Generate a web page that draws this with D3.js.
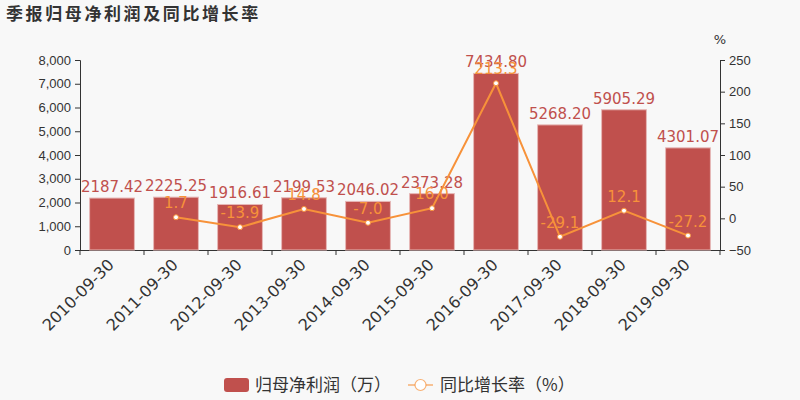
<!DOCTYPE html>
<html><head><meta charset="utf-8">
<script src="https://cdn.jsdelivr.net/npm/d3@7"></script>
<style>body{margin:0;background:#f8f8f8;}svg{display:block;font-family:"DejaVu Sans","Noto Sans CJK SC",sans-serif;}</style>
</head><body><svg id="c" width="800" height="400"></svg>
<script>
const categories = ["2010-09-30","2011-09-30","2012-09-30","2013-09-30","2014-09-30","2015-09-30","2016-09-30","2017-09-30","2018-09-30","2019-09-30"];
const profit = [2187.42,2225.25,1916.61,2199.53,2046.02,2373.28,7434.80,5268.20,5905.29,4301.07];
const growth = [null,1.7,-13.9,14.8,-7.0,16.0,213.3,-29.1,12.1,-27.2];
const leftTicks = [0,1000,2000,3000,4000,5000,6000,7000,8000];
const rightTicks = [-50,0,50,100,150,200,250];

const svg = d3.select("#c");
const L = 80, R = 720, T = 60, B = 250;
const barColor = "#c0504d", lineColor = "#f7923a", textColor = "#333";

const x = d3.scaleBand().domain(categories).range([L, R]).paddingInner(0.3).paddingOuter(0.15);
const xb = d3.scaleBand().domain(categories).range([L, R]);
const yL = d3.scaleLinear().domain([0, 8000]).range([B, T]);
const yR = d3.scaleLinear().domain([-50, 250]).range([B, T]);

svg.append("text").attr("x", 6).attr("y", 20).text("季报归母净利润及同比增长率")
  .attr("font-size", 17).attr("font-weight", "bold").attr("fill", "#333").attr("letter-spacing", 2.6)
  .attr("font-family", "'Noto Sans CJK SC',sans-serif");

// axes
const gl = svg.append("g").attr("transform", `translate(${L},0)`)
  .call(d3.axisLeft(yL).tickValues(leftTicks).tickFormat(d3.format(",")).tickSize(5).tickPadding(4));
const gr = svg.append("g").attr("transform", `translate(${R},0)`)
  .call(d3.axisRight(yR).tickValues(rightTicks).tickSize(5).tickPadding(4));
const gx = svg.append("g").attr("transform", `translate(0,${B})`)
  .call(d3.axisBottom(xb).tickSize(5).tickFormat(""));
gx.selectAll(".tick").remove();
gx.selectAll(".tk").data(d3.range(categories.length + 1)).enter().append("line")
  .attr("x1", i => L + i * xb.step()).attr("x2", i => L + i * xb.step())
  .attr("y1", 0).attr("y2", 5).attr("stroke", textColor);
[gl, gr, gx].forEach(g => {
  g.selectAll("path,line").attr("stroke", textColor);
  g.selectAll("text").attr("fill", textColor).attr("font-size", 13);
});
gx.select(".domain").attr("d", `M${L},0.5H${R}`);

svg.append("text").attr("x", R).attr("y", 44).attr("text-anchor", "middle")
  .attr("font-size", 13).attr("fill", textColor).text("%");

// x labels
svg.append("g").selectAll("text").data(categories).enter().append("text")
  .attr("transform", d => `translate(${xb(d) + xb.bandwidth() / 2 - 5},${B + 8}) rotate(-45)`)
  .attr("text-anchor", "end").attr("font-size", 16).attr("fill", textColor)
  .attr("dy", "0.7em").text(d => d);

// bars
svg.append("g").selectAll("rect").data(profit).enter().append("rect")
  .attr("x", (d, i) => x(categories[i])).attr("width", x.bandwidth())
  .attr("y", d => yL(d)).attr("height", d => B - yL(d))
  .attr("fill", barColor).attr("stroke", "#e6b8b7").attr("stroke-width", 1);

svg.append("g").selectAll("text").data(profit).enter().append("text")
  .attr("x", (d, i) => x(categories[i]) + x.bandwidth() / 2).attr("y", d => yL(d) - 6)
  .attr("text-anchor", "middle").attr("font-size", 15).attr("fill", barColor)
  .text(d => d.toFixed(2));

// line
const pts = growth.map((g, i) => ({g, c: categories[i]})).filter(d => d.g !== null);
const cx = d => xb(d.c) + xb.bandwidth() / 2;
svg.append("path").datum(pts)
  .attr("d", d3.line().x(cx).y(d => yR(d.g)))
  .attr("fill", "none").attr("stroke", lineColor).attr("stroke-width", 2);
svg.append("g").selectAll("circle").data(pts).enter().append("circle")
  .attr("cx", cx).attr("cy", d => yR(d.g)).attr("r", 2.5)
  .attr("fill", "#fff").attr("stroke", lineColor).attr("stroke-width", 1);
svg.append("g").selectAll("text").data(pts).enter().append("text")
  .attr("x", cx).attr("y", d => yR(d.g) - 9)
  .attr("text-anchor", "middle").attr("font-size", 15).attr("fill", lineColor)
  .text(d => d.g.toFixed(1));

// legend
const lg = svg.append("g").attr("font-family", "'Noto Sans CJK SC',sans-serif");
lg.append("rect").attr("x", 224).attr("y", 378).attr("width", 25).attr("height", 14).attr("rx", 3).attr("fill", barColor);
lg.append("text").attr("x", 255).attr("y", 391).attr("font-size", 17).attr("fill", textColor).text("归母净利润（万）");
lg.append("line").attr("x1", 408).attr("x2", 433).attr("y1", 385).attr("y2", 385).attr("stroke", lineColor).attr("stroke-width", 1.5).attr("stroke-opacity", 0.7);
lg.append("circle").attr("cx", 420.5).attr("cy", 385).attr("r", 5.5).attr("fill", "#fff").attr("stroke", lineColor).attr("stroke-width", 1.2).attr("stroke-opacity", 0.7);
lg.append("text").attr("x", 440).attr("y", 391).attr("font-size", 17).attr("fill", textColor).text("同比增长率（%）");
</script></body></html>
